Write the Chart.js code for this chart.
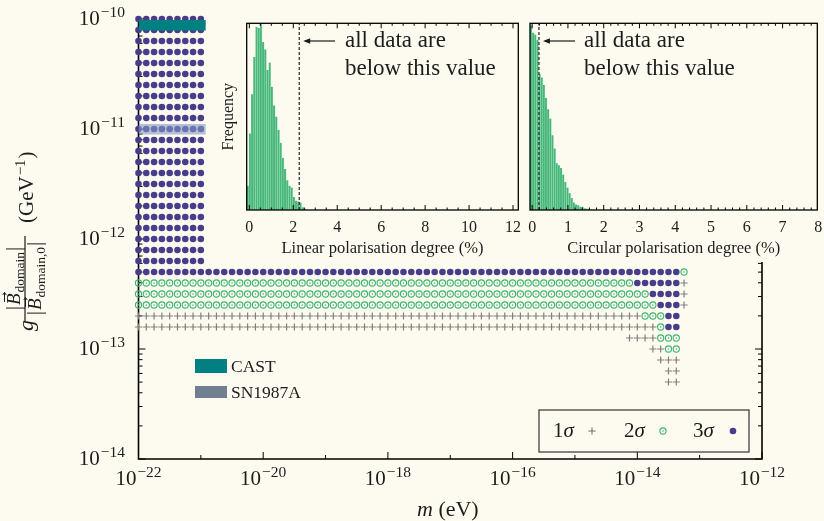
<!DOCTYPE html>
<html>
<head>
<meta charset="utf-8">
<script src="https://cdn.jsdelivr.net/npm/chart.js@4.4.1/dist/chart.umd.min.js"></script>
<style>
  html, body { margin: 0; padding: 0; background: #fdfbf0; }
  #wrap { position: relative; width: 824px; height: 521px; overflow: hidden; }
  canvas { position: absolute; top: 0; }
  #main { left: 0; }
  #lin { left: 212px; }
  #circ { left: 522px; }
</style>
</head>
<body>
<div id="wrap">
  <canvas id="main" width="824" height="521"></canvas>
  <canvas id="lin" width="310" height="262"></canvas>
  <canvas id="circ" width="302" height="262"></canvas>
</div>
<script>
// ---- data (log10 units) ----
// mass grid: 8 points per decade in log10(m / eV)
const massStep = 0.125;

// each row: [log10 g, first log10 m, last log10 m]
const rows3sigma = [
  [-10.0, -22, -21], [-10.1, -22, -21], [-10.2, -22, -21], [-10.3, -22, -21],
  [-10.4, -22, -21], [-10.5, -22, -21], [-10.6, -22, -21], [-10.7, -22, -21],
  [-10.8, -22, -21], [-10.9, -22, -21], [-11.0, -22, -21], [-11.1, -22, -21],
  [-11.2, -22, -21], [-11.3, -22, -21], [-11.4, -22, -21], [-11.5, -22, -21],
  [-11.6, -22, -21], [-11.7, -22, -21], [-11.8, -22, -21], [-11.9, -22, -21],
  [-12.0, -22, -21], [-12.1, -22, -21], [-12.2, -22, -21],
  [-12.3, -22, -13.375],
  [-12.4, -14.0, -13.375],
  [-12.5, -13.75, -13.375],
  [-12.6, -13.625, -13.375],
  [-12.7, -13.5, -13.375],
  [-12.8, -13.5, -13.375]
];
const rows2sigma = [
  [-12.3, -13.25, -13.25],
  [-12.4, -22, -14.125],
  [-12.5, -22, -13.875],
  [-12.6, -22, -13.75],
  [-12.7, -13.875, -13.625],
  [-12.8, -13.625, -13.625],
  [-12.9, -13.625, -13.375],
  [-13.0, -13.5, -13.375]
];
const rows1sigma = [
  [-12.4, -13.25, -13.25],
  [-12.5, -13.25, -13.25],
  [-12.6, -13.25, -13.25],
  [-12.7, -22, -14.0],
  [-12.8, -22, -13.75],
  [-12.9, -14.125, -13.75],
  [-13.0, -13.75, -13.625],
  [-13.1, -13.625, -13.375],
  [-13.2, -13.5, -13.375],
  [-13.3, -13.5, -13.375]
];

const bandMass = [-22, -20.92];
const castBand = [-10.01, -10.105];
const snBand = [-10.955, -11.05];

const massTicks = [-22, -20, -18, -16, -14, -12];
const couplingTicks = [-14, -13, -12, -11, -10];

// inset histograms (relative frequency)
const linBinStart = -0.12, linBinWidth = 0.1;
const linFreq = [0.13, 0.41, 0.62, 0.82, 0.98, 0.975, 1.04, 0.90, 0.86, 0.75, 0.79, 0.66, 0.56,
  0.50, 0.43, 0.36, 0.28, 0.22, 0.16, 0.13, 0.12, 0.07, 0.05, 0.046, 0.04, 0.015, 0.007];
const linLimit = 2.27;
const linTicks = [0, 2, 4, 6, 8, 10, 12];

const circBinStart = -0.06, circBinWidth = 0.06;
const circFreq = [0.99, 0.95, 0.94, 0.91, 0.73, 0.71, 0.67, 0.60, 0.54, 0.49, 0.40, 0.33, 0.25,
  0.24, 0.225, 0.19, 0.15, 0.12, 0.09, 0.064, 0.04, 0.03, 0.025, 0.018, 0.018, 0.01, 0.007,
  0.004, 0.003, 0.002];
const circLimit = 0.19;
const circTicks = [0, 1, 2, 3, 4, 5, 6, 7, 8];

// ---- styling ----
const BG = '#fdfbf0';
const INK = '#1c1c1c';
const SERIF = '"Liberation Serif", "DejaVu Serif", serif';
const C3 = '#483d8b', C2 = '#3cb371', C1 = '#808080';

function expand(rows) {
  const pts = [];
  rows.forEach(([g, m0, m1]) => {
    const n = Math.round((m1 - m0) / massStep);
    for (let i = 0; i <= n; i++) pts.push({ x: m0 + i * massStep, y: g });
  });
  return pts;
}

function line(ctx, x1, y1, x2, y2) {
  ctx.beginPath(); ctx.moveTo(x1, y1); ctx.lineTo(x2, y2); ctx.stroke();
}

function drawMarker(ctx, kind, x, y) {
  ctx.save();
  if (kind === 3) {
    ctx.fillStyle = C3;
    ctx.beginPath(); ctx.arc(x, y, 3.3, 0, Math.PI * 2); ctx.fill();
  } else if (kind === 2) {
    ctx.strokeStyle = C2; ctx.fillStyle = C2; ctx.lineWidth = 1.1;
    ctx.beginPath(); ctx.arc(x, y, 3.1, 0, Math.PI * 2); ctx.stroke();
    ctx.beginPath(); ctx.arc(x, y, 0.8, 0, Math.PI * 2); ctx.fill();
  } else {
    ctx.strokeStyle = C1; ctx.lineWidth = 1.2;
    line(ctx, x - 3.5, y, x + 3.5, y); line(ctx, x, y - 3.5, x, y + 3.5);
  }
  ctx.restore();
}

// "10^{-n}" label
function powerLabel(ctx, exp, x, y, align) {
  const base = '10', sup = '\u2212' + Math.abs(exp);
  ctx.font = '21px ' + SERIF;
  const wb = ctx.measureText(base).width;
  ctx.font = '15.5px ' + SERIF;
  const ws = ctx.measureText(sup).width;
  const total = wb + 1 + ws;
  const x0 = align === 'center' ? x - total / 2 : x - total;
  ctx.textAlign = 'left';
  ctx.font = '21px ' + SERIF;
  ctx.fillText(base, x0, y);
  ctx.font = '15.5px ' + SERIF;
  ctx.fillText(sup, x0 + wb + 1, y - 8);
}

// |B_sub| in rotated frame: u = along text, w = page x
function absB(ctx, sub, uc, w) {
  const fB = 'italic 19px ' + SERIF, fS = '13.5px ' + SERIF;
  ctx.font = fB; const wB = ctx.measureText('B').width;
  ctx.font = fS; const wS = ctx.measureText(sub).width;
  const total = 3 + wB + 1 + wS + 3;
  let u = uc - total / 2;
  ctx.lineWidth = 1;
  line(ctx, u, w - 14, u, w + 5);
  u += 3;
  ctx.font = fB; ctx.fillText('B', u, w);
  // vector arrow over B
  const ay = w - 15.5;
  line(ctx, u + 3, ay, u + wB + 1, ay);
  line(ctx, u + wB + 1, ay, u + wB - 1.5, ay - 1.8);
  line(ctx, u + wB + 1, ay, u + wB - 1.5, ay + 1.8);
  u += wB + 1;
  ctx.font = fS; ctx.fillText(sub, u, w + 4);
  u += wS + 3;
  line(ctx, u, w - 14, u, w + 5);
}

const mainDecor = {
  id: 'mainDecor',
  beforeDraw(chart) {
    const ctx = chart.ctx;
    ctx.save(); ctx.fillStyle = BG; ctx.fillRect(0, 0, chart.width, chart.height); ctx.restore();
  },
  beforeDatasetsDraw(chart) {
    const { ctx, chartArea: a, scales: { x, y } } = chart;
    ctx.save();
    ctx.strokeStyle = '#000';
    ctx.lineWidth = 1.6;
    ctx.beginPath();
    ctx.moveTo(a.left, a.top); ctx.lineTo(a.left, a.bottom);
    ctx.lineTo(a.right, a.bottom); ctx.lineTo(a.right, a.top);
    ctx.stroke();
    ctx.lineWidth = 1;
    for (let d = -22; d <= -12; d++) {
      const px = x.getPixelForValue(d);
      line(ctx, px, a.bottom, px, a.bottom - (d % 2 === 0 ? 7 : 4));
    }
    for (let d = -14; d <= -10; d++) {
      for (let k = 1; k <= 9; k++) {
        if (d === -10 && k > 1) break;
        const py = y.getPixelForValue(d + Math.log10(k));
        const len = k === 1 ? 7 : 4;
        line(ctx, a.left, py, a.left + len, py);
        line(ctx, a.right, py, a.right - len, py);
      }
    }
    ctx.restore();
  },
  afterDatasetDraw(chart, args) {
    // centre dot of the 2 sigma rings
    if (chart.data.datasets[args.index].label !== '2\u03c3') return;
    const ctx = chart.ctx;
    ctx.save();
    ctx.fillStyle = C2;
    args.meta.data.forEach(p => {
      ctx.beginPath(); ctx.arc(p.x, p.y, 0.8, 0, Math.PI * 2); ctx.fill();
    });
    ctx.restore();
  },
  afterDraw(chart) {
    const { ctx, scales: { x, y } } = chart;
    ctx.save();
    ctx.fillStyle = INK;
    ctx.textBaseline = 'alphabetic';
    massTicks.forEach(d => powerLabel(ctx, d, x.getPixelForValue(d), 485, 'center'));
    couplingTicks.forEach(d => powerLabel(ctx, d, 125, y.getPixelForValue(d) + 6, 'right'));

    // x title
    ctx.textAlign = 'left';
    ctx.font = 'italic 22px ' + SERIF;
    ctx.fillText('m', 417, 516);
    const wm = ctx.measureText('m').width;
    ctx.font = '22px ' + SERIF;
    ctx.fillText(' (eV)', 417 + wm, 516);

    // y title (rotated)
    ctx.save();
    ctx.rotate(-Math.PI / 2);
    ctx.strokeStyle = INK;
    ctx.font = 'italic 22px ' + SERIF;
    ctx.fillText('g', -331, 33);
    ctx.lineWidth = 1.2;
    line(ctx, -321, 25, -236, 25);
    absB(ctx, 'domain', -278.5, 20);
    absB(ctx, 'domain,0', -278.5, 41);
    ctx.font = '21px ' + SERIF;
    ctx.fillText('(GeV', -223, 33);
    let u = -223 + ctx.measureText('(GeV').width + 1;
    ctx.font = '15px ' + SERIF;
    ctx.fillText('\u22121', u, 25);
    u += ctx.measureText('\u22121').width + 1;
    ctx.font = '21px ' + SERIF;
    ctx.fillText(')', u, 33);
    ctx.restore();

    // band legend
    ctx.fillStyle = '#008080'; ctx.fillRect(195, 359, 32, 14);
    ctx.fillStyle = '#708090'; ctx.fillRect(195, 386, 32, 12);
    ctx.fillStyle = INK;
    ctx.font = '17.5px ' + SERIF;
    ctx.fillText('CAST', 231, 372);
    ctx.fillText('SN1987A', 231, 398);

    // sigma legend
    ctx.fillStyle = BG; ctx.fillRect(539, 410, 210, 42);
    ctx.strokeStyle = '#333'; ctx.lineWidth = 1.2;
    ctx.strokeRect(539, 410, 210, 42);
    ctx.fillStyle = INK;
    [['1', 553, 1, 592], ['2', 624, 2, 663], ['3', 693, 3, 733]].forEach(([n, tx, kind, mx]) => {
      ctx.font = '21px ' + SERIF;
      ctx.fillText(n, tx, 436.5);
      const wn = ctx.measureText(n).width;
      ctx.font = 'italic 21px ' + SERIF;
      ctx.fillText('\u03c3', tx + wn, 436.5);
      drawMarker(ctx, kind, mx, 431);
    });
    ctx.restore();
  }
};

new Chart(document.getElementById('main'), {
  type: 'scatter',
  data: {
    datasets: [
      { type: 'line', data: bandMass.map(m => ({ x: m, y: castBand[0] })), fill: { value: castBand[1] },
        backgroundColor: '#008080', borderWidth: 0, pointRadius: 0, order: 0 },
      { type: 'line', data: bandMass.map(m => ({ x: m, y: snBand[0] })), fill: { value: snBand[1] },
        backgroundColor: 'rgba(130,155,200,0.6)', borderWidth: 0, pointRadius: 0, order: 0 },
      { label: '1\u03c3', data: expand(rows1sigma), pointStyle: 'cross', pointRadius: 3.6,
        borderColor: C1, borderWidth: 1.2, clip: false, order: 1 },
      { label: '2\u03c3', data: expand(rows2sigma), pointStyle: 'circle', pointRadius: 3.1,
        backgroundColor: 'rgba(0,0,0,0)', borderColor: C2, borderWidth: 1.1, clip: false, order: 1 },
      { label: '3\u03c3', data: expand(rows3sigma), pointStyle: 'circle', pointRadius: 3.3,
        backgroundColor: C3, borderWidth: 0, clip: false, order: 1 }
    ]
  },
  options: {
    responsive: false,
    devicePixelRatio: 1,
    animation: false,
    layout: { padding: { left: 138.5, right: 62, top: 19, bottom: 62 } },
    scales: {
      x: { type: 'linear', min: -22, max: -12, display: false },
      y: { type: 'linear', min: -14, max: -10, display: false }
    },
    plugins: { legend: { display: false }, tooltip: { enabled: false } }
  },
  plugins: [mainDecor]
});

// ---- insets ----
function inset(id, cfg) {
  const decor = {
    id: 'insetDecor',
    beforeDraw(chart) {
      const ctx = chart.ctx;
      ctx.save(); ctx.fillStyle = BG; ctx.fillRect(0, 0, chart.width, chart.height); ctx.restore();
    },
    afterDatasetsDraw(chart) {
      const { ctx, chartArea: a, scales: { x } } = chart;
      ctx.save();
      ctx.strokeStyle = '#000';
      ctx.lineWidth = 1;
      const n = Math.round(cfg.max / cfg.minor);
      for (let i = 0; i <= n; i++) {
        const v = i * cfg.minor;
        const px = x.getPixelForValue(v);
        if (px > a.right) break;
        const major = cfg.ticks.some(t => Math.abs(t - v) < 1e-6);
        const len = major ? 5 : 2.5;
        line(ctx, px, a.bottom, px, a.bottom - len);
        line(ctx, px, a.top, px, a.top + len);
      }
      ctx.lineWidth = 1.3;
      ctx.strokeRect(a.left, a.top, a.right - a.left, a.bottom - a.top);
      ctx.restore();
    },
    afterDraw(chart) {
      const { ctx, chartArea: a, scales: { x } } = chart;
      ctx.save();
      ctx.fillStyle = INK; ctx.strokeStyle = INK;
      ctx.textBaseline = 'alphabetic';
      ctx.textAlign = 'center';
      ctx.font = '16px ' + SERIF;
      cfg.ticks.forEach(t => ctx.fillText(String(t), x.getPixelForValue(t), 231.5));
      ctx.font = '16.5px ' + SERIF;
      ctx.fillText(cfg.title, (a.left + a.right) / 2, 253);
      if (cfg.freqLabel) {
        ctx.save();
        ctx.translate(21, (a.top + a.bottom) / 2);
        ctx.rotate(-Math.PI / 2);
        ctx.font = '16px ' + SERIF;
        ctx.fillText('Frequency', 0, 0);
        ctx.restore();
      }
      // arrow + note
      const tip = x.getPixelForValue(cfg.limit) + 4;
      ctx.lineWidth = 1.2;
      line(ctx, cfg.arrowFrom, 41, tip + 5, 41);
      ctx.beginPath();
      ctx.moveTo(tip, 41); ctx.lineTo(tip + 7, 38.2); ctx.lineTo(tip + 7, 43.8); ctx.closePath(); ctx.fill();
      ctx.textAlign = 'left';
      ctx.font = '23px ' + SERIF;
      ctx.fillText('all data are', cfg.textX, 47);
      ctx.fillText('below this value', cfg.textX, 75);
      ctx.restore();
    }
  };
  return new Chart(document.getElementById(id), {
    type: 'bar',
    data: {
      datasets: [
        { type: 'line', data: [{ x: cfg.limit, y: 0 }, { x: cfg.limit, y: 1 }], borderColor: '#222',
          borderWidth: 1.2, borderDash: [3, 2], pointRadius: 0, order: 0 },
        { data: cfg.freq.map((f, i) => ({ x: cfg.start + (i + 0.5) * cfg.width, y: f })),
          backgroundColor: '#48b77b', borderColor: 'rgba(185,235,200,0.9)',
          borderWidth: { top: 0, left: 0, bottom: 0, right: 0.6 }, borderSkipped: false,
          categoryPercentage: 1, barPercentage: 1, order: 1 }
      ]
    },
    options: {
      responsive: false,
      devicePixelRatio: 1,
      animation: false,
      layout: { padding: cfg.pad },
      scales: {
        x: { type: 'linear', min: cfg.min, max: cfg.max, offset: false, display: false, grid: { offset: false } },
        y: { type: 'linear', min: 0, max: 1, display: false }
      },
      plugins: { legend: { display: false }, tooltip: { enabled: false } }
    },
    plugins: [decor]
  });
}

inset('lin', {
  freq: linFreq, start: linBinStart, width: linBinWidth, limit: linLimit,
  min: -0.12, max: 12.24, ticks: linTicks, minor: 0.5,
  title: 'Linear polarisation degree (%)', freqLabel: true,
  pad: { left: 34.7, right: 3.7, top: 23.3, bottom: 52 },
  arrowFrom: 123, textX: 133
});
inset('circ', {
  freq: circFreq, start: circBinStart, width: circBinWidth, limit: circLimit,
  min: -0.06, max: 7.97, ticks: circTicks, minor: 0.2,
  title: 'Circular polarisation degree (%)', freqLabel: false,
  pad: { left: 8, right: 6.7, top: 23.3, bottom: 52 },
  arrowFrom: 53, textX: 62
});
</script>
</body>
</html>
